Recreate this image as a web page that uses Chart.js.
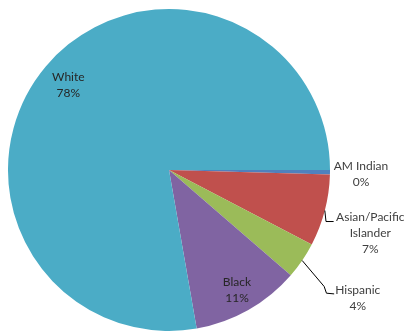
<!DOCTYPE html>
<html>
<head>
<meta charset="utf-8">
<script src="https://cdn.jsdelivr.net/npm/chart.js@4"></script>
<style>
  html, body { margin: 0; padding: 0; background: #ffffff; }
  #wrap { width: 404px; height: 333px; }
</style>
</head>
<body>
<div id="wrap"><canvas id="c" width="404" height="333"></canvas></div>
<script>
// ---- data ----
const categories = ["AM Indian", "Asian/Pacific Islander", "Hispanic", "Black", "White"];
const labelLines = [["AM Indian"], ["Asian/Pacific", "Islander"], ["Hispanic"], ["Black"], ["White"]];
const shares = [0.45, 7.2, 3.7, 10.9, 77.75];
const sliceColors = ["#4F81BD", "#C0504D", "#9BBB59", "#8064A2", "#4BACC6"];

// ---- label placement styles (offsets relative to each slice's geometry) ----
const labelPlacement = [
  { inside: false, dx: 31, dy: -6, leader: null },
  { inside: false, dx: 45.5, dy: 6.3, leader: [[0, 0], [1.2, 11], [8.8, 11]] },
  { inside: false, dx: 55.6, dy: 29.4, leader: [[0, 0], [22, 26], [24.3, 32.7], [32, 33.4]] },
  { inside: true, frac: 0.857 },
  { inside: true, frac: 0.817 }
];

const total = shares.reduce((a, b) => a + b, 0);

const labelPlugin = {
  id: 'pieLabels',
  afterDatasetsDraw(chart) {
    const ctx = chart.ctx;
    const meta = chart.getDatasetMeta(0);
    ctx.save();
    ctx.font = '12px Lato, "Open Sans", sans-serif';
    ctx.textAlign = 'center';
    ctx.textBaseline = 'middle';
    const lh = 16;
    meta.data.forEach((arc, i) => {
      const p = arc.getProps(['x', 'y', 'startAngle', 'endAngle', 'outerRadius'], true);
      const mid = (p.startAngle + p.endAngle) / 2;
      const pct = Math.round(shares[i] / total * 100) + '%';
      const lines = labelLines[i].concat([pct]);
      const pl = labelPlacement[i];
      if (pl.inside) {
        const cx = p.x + Math.cos(mid) * p.outerRadius * pl.frac;
        const cy = p.y + Math.sin(mid) * p.outerRadius * pl.frac;
        ctx.fillStyle = '#262626';
        const y0 = cy - (lines.length - 1) * lh / 2;
        lines.forEach((t, k) => ctx.fillText(t, cx, y0 + k * lh));
      } else {
        const ax = p.x + Math.cos(mid) * p.outerRadius;
        const ay = p.y + Math.sin(mid) * p.outerRadius;
        if (pl.leader) {
          ctx.strokeStyle = '#000000';
          ctx.lineWidth = 1;
          ctx.beginPath();
          pl.leader.forEach((pt, k) => {
            const lx = ax + pt[0], ly = ay + pt[1];
            if (k === 0) ctx.moveTo(lx, ly); else ctx.lineTo(lx, ly);
          });
          ctx.stroke();
        }
        ctx.fillStyle = '#404040';
        lines.forEach((t, k) => ctx.fillText(t, ax + pl.dx, ay + pl.dy + k * lh));
      }
    });
    ctx.restore();
  }
};

new Chart(document.getElementById('c'), {
  type: 'pie',
  data: {
    labels: categories,
    datasets: [{
      data: shares,
      backgroundColor: sliceColors,
      borderWidth: 0
    }]
  },
  options: {
    responsive: false,
    animation: false,
    rotation: 90,
    layout: { padding: { left: 8, right: 74, top: 9, bottom: 2 } },
    plugins: {
      legend: { display: false },
      tooltip: { enabled: false }
    }
  },
  plugins: [labelPlugin]
});
</script>
</body>
</html>
